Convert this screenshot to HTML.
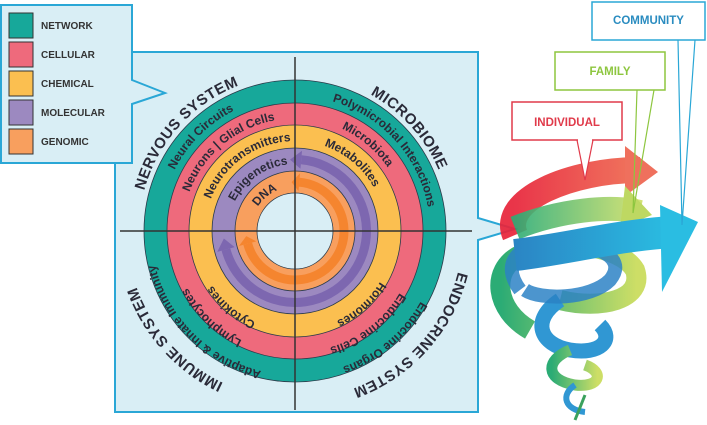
<!DOCTYPE html>
<html><head><meta charset="utf-8"><style>
html,body{margin:0;padding:0;background:#fff;width:707px;height:425px;overflow:hidden}
svg{display:block;font-family:"Liberation Sans",sans-serif}
</style></head><body>
<svg id="s" width="707" height="425" viewBox="0 0 707 425">
<defs>
<linearGradient id="gRed" x1="0" x2="1"><stop offset="0" stop-color="#e8243a"/><stop offset="1" stop-color="#ef6b50"/></linearGradient>
<linearGradient id="gGreen" x1="0" x2="1"><stop offset="0" stop-color="#1aa56a"/><stop offset="1" stop-color="#c9dc5a"/></linearGradient>
<linearGradient id="gBlue" x1="0" x2="1"><stop offset="0" stop-color="#1a7bc0"/><stop offset="1" stop-color="#19b8e0"/></linearGradient>
</defs>
<g>
<path d="M115,52 H478 V218 L515,229 L478,240 V412 H115 Z" fill="#d9eef5" stroke="#2aa7d6" stroke-width="2"/>
</g>
<g>
<path d="M1,5 H132 V80 L165,93 L132,104 V163 H1 Z" fill="#d9eef5" stroke="#2aa7d6" stroke-width="2"/>
<g id="leg"></g>
</g>
<g id="rings"></g>
<line x1="295" y1="57" x2="295" y2="410" stroke="#333" stroke-width="1.5"/>
<line x1="120" y1="231" x2="472" y2="231" stroke="#333" stroke-width="1.5"/>
<g id="labels"></g>
<g opacity="0.92">
<path d="M530,330 C495,310 490,270 520,255 C560,238 620,245 635,270 C645,300 600,310 560,300" fill="none" stroke="url(#gGreen)" stroke-width="20"/>
<path d="M560,300 C530,320 540,345 570,350 C600,355 615,340 600,325" fill="none" stroke="#1f8fd0" stroke-width="15"/>
<path d="M570,350 C545,360 545,380 575,385 C600,388 605,372 585,365" fill="none" stroke="url(#gGreen)" stroke-width="11"/>
<path d="M575,385 C560,395 565,410 585,412" fill="none" stroke="#1f8fd0" stroke-width="6"/>
<path d="M585,395 L575,420" stroke="#2a9a50" stroke-width="3"/>
<path d="M520,290 C505,270 510,250 540,245 C590,240 630,255 610,280 C590,300 540,300 525,290" fill="none" stroke="#1a78c0" stroke-width="14" opacity="0.85"/>
<path d="M515,235 C500,200 570,170 640,170" fill="none" stroke="url(#gRed)" stroke-width="26"/>
<polygon points="625,146 658,172 625,196" fill="#ee6450"/>
<path d="M515,228 C560,210 610,205 640,212" fill="none" stroke="url(#gGreen)" stroke-width="24" opacity="0.9"/>
<polygon points="625,186 652,215 620,228" fill="#b9d555"/>
<path d="M515,255 C560,250 620,235 672,232" fill="none" stroke="url(#gBlue)" stroke-width="32"/>
<polygon points="660,205 698,222 662,292" fill="#19b8e0"/>
</g>
<g>
<polyline points="678,40 682,225 695,40" fill="none" stroke="#2aa7d6" stroke-width="1.2"/>
<rect x="592" y="2" width="113" height="38" fill="#fff" stroke="#2aa7d6" stroke-width="1.5"/>
<text x="648.5" y="24" text-anchor="middle" font-size="11.5" font-weight="bold" fill="#2a8cc0">COMMUNITY</text>
</g>
<g>
<polyline points="637,90 633,213 654,90" fill="none" stroke="#8dc63f" stroke-width="1.2"/>
<rect x="555" y="52" width="110" height="38" fill="#fff" stroke="#8dc63f" stroke-width="1.5"/>
<text x="610" y="75" text-anchor="middle" font-size="11.5" font-weight="bold" fill="#8dc63f">FAMILY</text>
</g>
<g>
<polyline points="577,140 585,180 593,140" fill="#fff" stroke="#e03a4a" stroke-width="1.2"/>
<rect x="512" y="102" width="110" height="38" fill="#fff" stroke="#e03a4a" stroke-width="1.5"/>
<line x1="578" y1="140" x2="592" y2="140" stroke="#fff" stroke-width="2"/>
<text x="567" y="126" text-anchor="middle" font-size="11.5" font-weight="bold" fill="#e03a4a">INDIVIDUAL</text>
</g>
</svg>
<script>
const NS="http://www.w3.org/2000/svg";
const cx=295, cy=231;
const legendNames=["NETWORK","CELLULAR","CHEMICAL","MOLECULAR","GENOMIC"];
const ringColors=["#17a89a","#ee6a7c","#fbbf50","#9c89c0","#f89f5e"];
const ringOuter=[151,128,106,83,60];
const holeR=38;
const quadTL=["Neural Circuits","Neurons | Glial Cells","Neurotransmitters","Epigenetics","DNA"];
const quadTR=["Polymicrobial Interactions","Microbiota","Metabolites","",""];
const quadBL=["Adaptive & Innate Immunity","Lymphocytes","Cytokines","",""];
const quadBR=["Endocrine Organs","Endocrine Cells","Hormones","",""];
const systems=["NERVOUS SYSTEM","MICROBIOME","ENDOCRINE SYSTEM","IMMUNE SYSTEM"];
const systemAngles=[-48,48,132,228];
function el(t,a,p){const e=document.createElementNS(NS,t);for(const k in a)e.setAttribute(k,a[k]);p.appendChild(e);return e;}
const leg=document.getElementById('leg');
legendNames.forEach((n,i)=>{
 const y=13+i*29;
 const r=el('rect',{x:9,y:y,width:24,height:25,fill:ringColors[i],stroke:'#333','stroke-width':1},leg);
 
 
 const t=el('text',{x:41,y:y+16,'font-size':10,'font-weight':'bold',fill:'#333'},leg);
 t.textContent=n;
 
 
});
const rings=document.getElementById('rings');
const defs=document.querySelector('defs');
ringOuter.forEach((r,i)=>{
 const c=el('circle',{cx:cx,cy:cy,r:r,fill:ringColors[i],stroke:'#2b3b4a','stroke-width':0.8},rings);
 
 
});
const hole=el('circle',{cx:cx,cy:cy,r:holeR,fill:'#d9eef5',stroke:'#2b3b4a','stroke-width':0.8},rings);


function pt(r,a){const t=(a-90)*Math.PI/180;return [cx+r*Math.cos(t),cy+r*Math.sin(t)];}
function arcArrow(r,a0,a1,col,w,name){
 const p0=pt(r,a0),p1=pt(r,a1);
 const large=(a1-a0)>180?1:0;
 const g=el('g',{},rings);
 
 
 el('path',{d:`M${p0[0]},${p0[1]} A${r},${r} 0 ${large} 1 ${p1[0]},${p1[1]}`,fill:'none',stroke:col,'stroke-width':w},g);
 const h=(ang,dir)=>{const tip=pt(r,ang+dir*9),b1=pt(r+w,ang),b2=pt(r-w,ang);
  el('polygon',{points:`${tip[0]},${tip[1]} ${b1[0]},${b1[1]} ${b2[0]},${b2[1]}`,fill:col},g);};
 h(a0,-1);h(a1,1);
}
arcArrow(71.5,5,255,'#7d67b0',9,'molecular-cycle-arrow');
arcArrow(49,5,255,'#f5852f',9,'genomic-cycle-arrow');
const labels=document.getElementById('labels');
let pid=0;
function circPath(r){
 const id='cp'+(pid++);
 const a=pt(r,0),b=pt(r,180);
 el('path',{id:id,d:`M${a[0]},${a[1]} A${r},${r} 0 1 1 ${b[0]},${b[1]} A${r},${r} 0 1 1 ${a[0]},${a[1]}`,fill:'none'},defs);
 return id;
}
function arcText(str,r,ang,size,name,spacing){
 if(!str)return;
 const id=circPath(r);
 const a=((ang%360)+360)%360;
 const t=el('text',{'font-size':size,'font-weight':'bold',fill:'#2a2a38','letter-spacing':spacing||0},labels);
 
 
 const tp=el('textPath',{href:'#'+id,startOffset:(a/360*100)+'%','text-anchor':'middle'},t);
 tp.textContent=str;
}
const midR=ringOuter.map((r,i)=>((r+(ringOuter[i+1]||holeR))/2)-4.5);
const tlA=[-45,-40,-36,-35,-40], trA=[48,40,40], blA=[225,224,220], brA=[140,142,138];
quadTL.forEach((s,i)=>arcText(s,midR[i],tlA[i]+360,12,'label-nervous-'+i));
quadTR.forEach((s,i)=>arcText(s,midR[i],trA[i],12,'label-microbiome-'+i));
quadBL.forEach((s,i)=>{if(s)arcText(s,midR[i]+9,blA[i],12,'label-immune-'+i);});
quadBR.forEach((s,i)=>{if(s)arcText(s,midR[i]+9,brA[i],12,'label-endocrine-'+i);});
systems.forEach((s,i)=>{
 const bottom=i>=2;
 arcText(s,bottom?168:156,systemAngles[i]+(i==0?360:0),15,'system-label-'+s.toLowerCase().replace(' ','-'),0.5);
});
</script>
</body></html>
